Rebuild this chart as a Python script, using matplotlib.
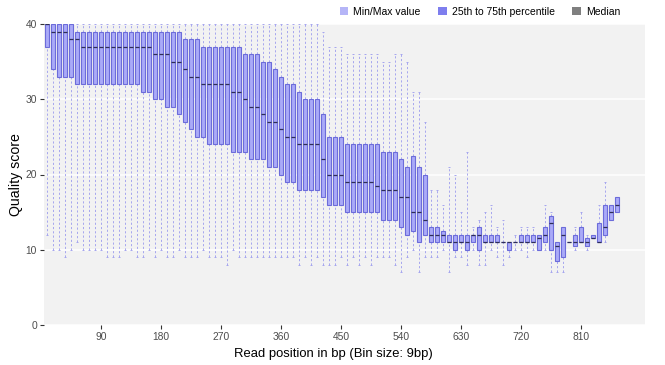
import numpy as np
import matplotlib
matplotlib.use("Agg")
import matplotlib.pyplot as plt
from matplotlib.patches import Patch

plt.rcParams['font.family'] = ['Liberation Sans', 'DejaVu Sans']

# ---- data (bins of 9 bp) ----
bin_size = 9
positions = np.arange(1, 97) * bin_size

q3 = [40, 40, 40, 40, 40, 39, 39, 39, 39, 39,
      39, 39, 39, 39, 39, 39, 39, 39, 39, 39,
      39, 39, 39, 38, 38, 38, 37, 37, 37, 37,
      37, 37, 37, 36, 36, 36, 35, 35, 34, 33,
      32, 32, 31, 30, 30, 30, 28, 25, 25, 25,
      24, 24, 24, 24, 24, 24, 23, 23, 23, 22,
      21, 22.5, 21, 20, 13, 13, 12.5, 12, 12, 12,
      12, 12, 13, 12, 12, 12, 11, 11, 11, 12,
      12, 12, 12, 13, 14.5, 11, 13, 11, 12, 13,
      11.5, 12, 13.5, 16, 16, 17]

median = [40, 39, 39, 39, 38, 38, 37, 37, 37, 37,
          37, 37, 37, 37, 37, 37, 37, 37, 36, 36,
          36, 35, 35, 34, 33, 33, 32, 32, 32, 32,
          32, 31, 31, 30, 29, 29, 28, 27, 27, 26,
          25, 25, 24, 24, 24, 24, 22, 20, 20, 20,
          19, 19, 19, 19, 19, 18.5, 18, 18, 18, 17,
          17, 15, 15, 14, 12, 12, 12, 11, 11, 11,
          11, 12, 12, 11, 11, 11, 11, 11, 11, 11,
          11, 11, 11.5, 12, 13.5, 10.5, 12, 11, 11, 11,
          11, 11.5, 11, 13, 15, 16]

q1 = [37, 34, 33, 33, 33, 32, 32, 32, 32, 32,
      32, 32, 32, 32, 32, 32, 31, 31, 30, 30,
      29, 29, 28, 27, 26, 25, 25, 24, 24, 24,
      24, 23, 23, 23, 22, 22, 22, 21, 21, 20,
      19, 19, 18, 18, 18, 18, 17, 16, 16, 16,
      15, 15, 15, 15, 15, 15, 14, 14, 14, 13,
      12, 12.5, 11, 12, 11, 11, 11, 11, 10, 11,
      10, 11, 10, 11, 11, 11, 11, 10, 11, 11,
      11, 11, 10, 11, 10, 8.5, 9, 11, 10.5, 11,
      10.5, 11.5, 11, 12, 14, 15]

vmax = [40] * 46 + [39, 37, 37, 37, 36, 36, 36, 36, 36, 36,
                    35, 35, 36, 36, 35, 31, 31, 27, 18, 18,
                    16, 21, 20, 15, 23, 13, 14, 15, 16, 13,
                    14, 11, 12, 13, 13, 13, 12, 16, 15, 11,
                    13, 11, 13, 15, 12, 12, 16, 19, 16, 17]

vmin = [12, 10, 10, 9, 10, 11, 10, 10, 10, 10,
        9, 9, 9, 10, 10, 9, 9, 10, 9, 10,
        9, 9, 10, 9, 9, 9, 10, 9, 9, 9,
        8, 10, 9, 9, 9, 9, 9, 9, 9, 9,
        9, 9, 8, 9, 8, 9, 8, 8, 8, 9,
        8, 9, 8, 9, 8, 9, 9, 9, 8, 7,
        9, 10, 7, 9, 9, 9, 10, 7, 9, 9,
        8, 10, 8, 8, 10, 9, 8, 9, 10, 10,
        9, 10, 10, 10, 7, 7, 7, 11, 10, 11,
        10, 11.5, 11, 11, 14, 15]

x_ticks = [90, 180, 270, 360, 450, 540, 630, 720, 810]
y_ticks = [0, 10, 20, 30, 40]
legend_labels = ["Min/Max value", "25th to 75th percentile", "Median"]

# ---- styles ----
box_fill = '#AAAAF8'
box_edge = '#6C6CDA'
whisk_col = '#A6A6EE'
med_col = '#2E2E55'
box_w = 6.6
cap_w = 1.6

fig = plt.figure(figsize=(6.65, 3.65), dpi=100)
ax = fig.add_axes([44 / 665, 40 / 365, 601 / 665, 301 / 365])
ax.set_facecolor('#F2F2F2')
for s in ax.spines.values():
    s.set_visible(False)

ax.set_xlim(4.5, 906)
ax.set_ylim(0, 40)
ax.set_yticks(y_ticks)
ax.set_xticks(x_ticks)
ax.yaxis.grid(True, color='white', lw=1.1)
ax.xaxis.grid(False)
ax.set_axisbelow(True)

pos = np.asarray(positions, dtype=float)
q1a, q3a, meda = np.array(q1), np.array(q3), np.array(median)
mx, mn = np.array(vmax), np.array(vmin)

dash = (0, (2.2, 2.2))
ax.vlines(pos, q3a, mx, colors=whisk_col, linestyles=dash, lw=0.7, zorder=2)
ax.vlines(pos, mn, q1a, colors=whisk_col, linestyles=dash, lw=0.7, zorder=2)
has_top = mx > q3a
has_bot = mn < q1a
ax.hlines(mx[has_top], pos[has_top] - cap_w, pos[has_top] + cap_w, colors=whisk_col, lw=0.7, zorder=2)
ax.hlines(mn[has_bot], pos[has_bot] - cap_w, pos[has_bot] + cap_w, colors=whisk_col, lw=0.7, zorder=2)

ax.bar(pos, q3a - q1a, bottom=q1a, width=box_w, color=box_fill,
       edgecolor=box_edge, lw=0.8, zorder=3)
ax.hlines(meda, pos - box_w / 2, pos + box_w / 2, colors=med_col, lw=0.9, zorder=4)

ax.tick_params(axis='both', length=3, width=0.8, color='#333333',
               labelsize=7.4, labelcolor='#4D4D4D', pad=2)
ax.set_xlabel("Read position in bp (Bin size: 9bp)", fontsize=9.4, labelpad=4)
ax.xaxis.set_label_coords((333 - 44) / 601, -0.075)
ax.set_ylabel("Quality score", fontsize=10.2, labelpad=2)

handles = [Patch(facecolor='#B5B5F7', edgecolor='none'),
           Patch(facecolor='#7E7EEE', edgecolor='none'),
           Patch(facecolor='#7F7F7F', edgecolor='none')]
fig.legend(handles, legend_labels, loc='upper right', bbox_to_anchor=(627 / 665, 1.0),
           ncol=3, frameon=False, fontsize=7.5, handlelength=0.8, handleheight=0.8,
           handletextpad=0.5, columnspacing=1.7, borderaxespad=0.3, borderpad=0.35)

fig.savefig('out.png', dpi=100)
